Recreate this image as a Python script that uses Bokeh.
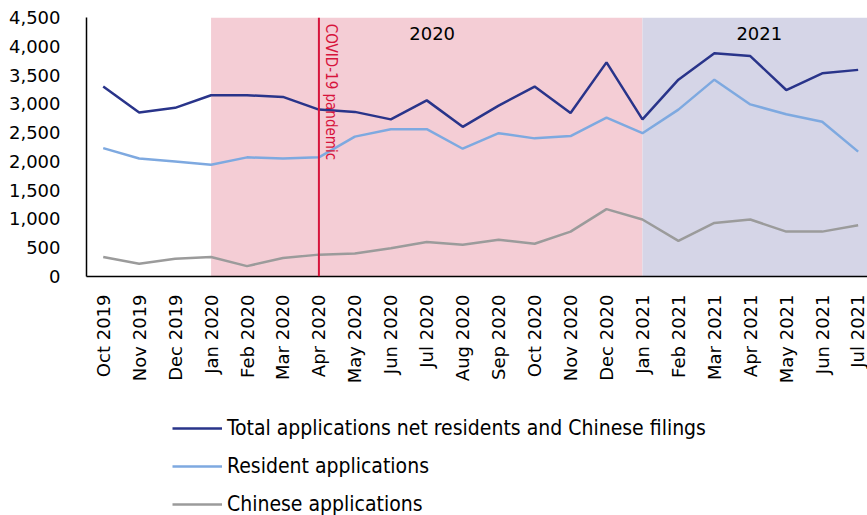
import math
from bokeh.plotting import figure
from bokeh.layouts import column
from bokeh.models import (Range1d, FixedTicker, NumeralTickFormatter, Legend, LegendItem,
                          Label, Span, ColumnDataSource)
from bokeh.embed import file_html
from bokeh.resources import INLINE

months = ["Oct 2019", "Nov 2019", "Dec 2019", "Jan 2020", "Feb 2020", "Mar 2020", "Apr 2020",
          "May 2020", "Jun 2020", "Jul 2020", "Aug 2020", "Sep 2020", "Oct 2020", "Nov 2020",
          "Dec 2020", "Jan 2021", "Feb 2021", "Mar 2021", "Apr 2021", "May 2021", "Jun 2021",
          "Jul 2021"]
total_net = [3300, 2850, 2930, 3150, 3150, 3120, 2900, 2860, 2730, 3060, 2600, 2970, 3300,
             2840, 3720, 2730, 3420, 3880, 3830, 3240, 3530, 3590]
resident = [2230, 2050, 2000, 1940, 2070, 2050, 2070, 2430, 2560, 2560, 2220, 2490, 2400,
            2440, 2760, 2490, 2900, 3420, 2990, 2820, 2690, 2170]
chinese = [340, 220, 310, 340, 180, 320, 380, 400, 490, 600, 550, 640, 570, 780, 1170, 990,
           620, 930, 990, 780, 780, 890]
y_ticks = [0, 500, 1000, 1500, 2000, 2500, 3000, 3500, 4000, 4500]
series_names = ["Total applications net residents and Chinese filings",
                "Resident applications", "Chinese applications"]
series_colors = ["#29348A", "#7EA9E0", "#9B9B9B"]
year_labels = ["2020", "2021"]
covid_label = "COVID-19 pandemic"

xs = list(range(len(months)))

p = figure(width=867, height=390, output_backend="svg", toolbar_location=None,
           x_range=Range1d(-0.465, 21.26), y_range=Range1d(0, 4500),
           min_border_left=86, min_border_right=0, min_border_top=17, min_border_bottom=114)
p.outline_line_color = None
p.grid.visible = False
p.background_fill_color = "white"

# shaded year regions
p.quad(left=[3], right=[15], bottom=[0], top=[4500], fill_color="#F4CDD5", line_color=None)
p.quad(left=[15], right=[21.6], bottom=[0], top=[4500], fill_color="#D5D5E7", line_color=None)

src = ColumnDataSource(dict(x=xs, total=total_net, res=resident, chn=chinese))
p.line("x", "total", source=src, line_color=series_colors[0], line_width=2.5)
p.line("x", "res", source=src, line_color=series_colors[1], line_width=2.5)
p.line("x", "chn", source=src, line_color=series_colors[2], line_width=2.5)

# covid line
p.add_layout(Span(location=6, dimension="height", line_color="#D7143C", line_width=2))
p.add_layout(Label(x=6, y=4390, x_offset=12.5, text=covid_label, angle=-math.pi / 2,
                   text_align="left", text_baseline="middle", text_color="#D7143C",
                   text_font="DejaVu Sans Condensed", text_font_size="15px"))

p.add_layout(Label(x=9.15, y=4230, text=year_labels[0], text_align="center",
                   text_baseline="middle", text_font="DejaVu Sans", text_font_size="18px",
                   text_color="black"))
p.add_layout(Label(x=18.25, y=4230, text=year_labels[1], text_align="center",
                   text_baseline="middle", text_font="DejaVu Sans", text_font_size="18px",
                   text_color="black"))

# axes
p.xaxis.ticker = FixedTicker(ticks=xs)
p.xaxis.major_label_overrides = {i: m for i, m in enumerate(months)}
p.xaxis.major_label_orientation = math.pi / 2
p.xaxis.major_label_text_font = "DejaVu Sans"
p.xaxis.major_label_text_font_size = "18px"
p.xaxis.major_label_text_color = "black"
p.xaxis.major_label_standoff = 12
p.xaxis.major_tick_line_color = None
p.xaxis.minor_tick_line_color = None
p.xaxis.axis_line_color = "black"
p.xaxis.axis_line_width = 1.5

p.yaxis.ticker = FixedTicker(ticks=y_ticks)
p.yaxis.formatter = NumeralTickFormatter(format="0,0")
p.yaxis.major_label_text_font = "DejaVu Sans"
p.yaxis.major_label_text_font_size = "18px"
p.yaxis.major_label_text_color = "black"
p.yaxis.major_label_standoff = 20
p.yaxis.major_tick_line_color = None
p.yaxis.minor_tick_line_color = None
p.yaxis.axis_line_color = "black"
p.yaxis.axis_line_width = 1.5

# legend figure (legend entries only, no visible data)
p2 = figure(width=867, height=125, output_backend="svg", toolbar_location=None,
            x_range=Range1d(0, 1), y_range=Range1d(0, 1),
            x_axis_location=None, y_axis_location=None,
            min_border_left=0, min_border_right=0, min_border_top=0, min_border_bottom=0)
p2.outline_line_color = None
p2.grid.visible = False
items = []
for name, col in zip(series_names, series_colors):
    rr = p2.line(x=[float("nan")], y=[float("nan")], line_color=col, line_width=2.5)
    items.append(LegendItem(label=name, renderers=[rr]))
legend = Legend(items=items, location=(86, -1), orientation="vertical",
                margin=0, padding=0, spacing=14, label_height=20, glyph_height=20,
                glyph_width=50, label_standoff=5, label_text_font="DejaVu Sans Condensed",
                label_text_font_size="21px", label_text_color="black",
                border_line_color=None, background_fill_alpha=0)
p2.add_layout(legend, "center")

layout = column(p, p2, spacing=0)
open("out.html", "w").write(file_html(layout, INLINE))
